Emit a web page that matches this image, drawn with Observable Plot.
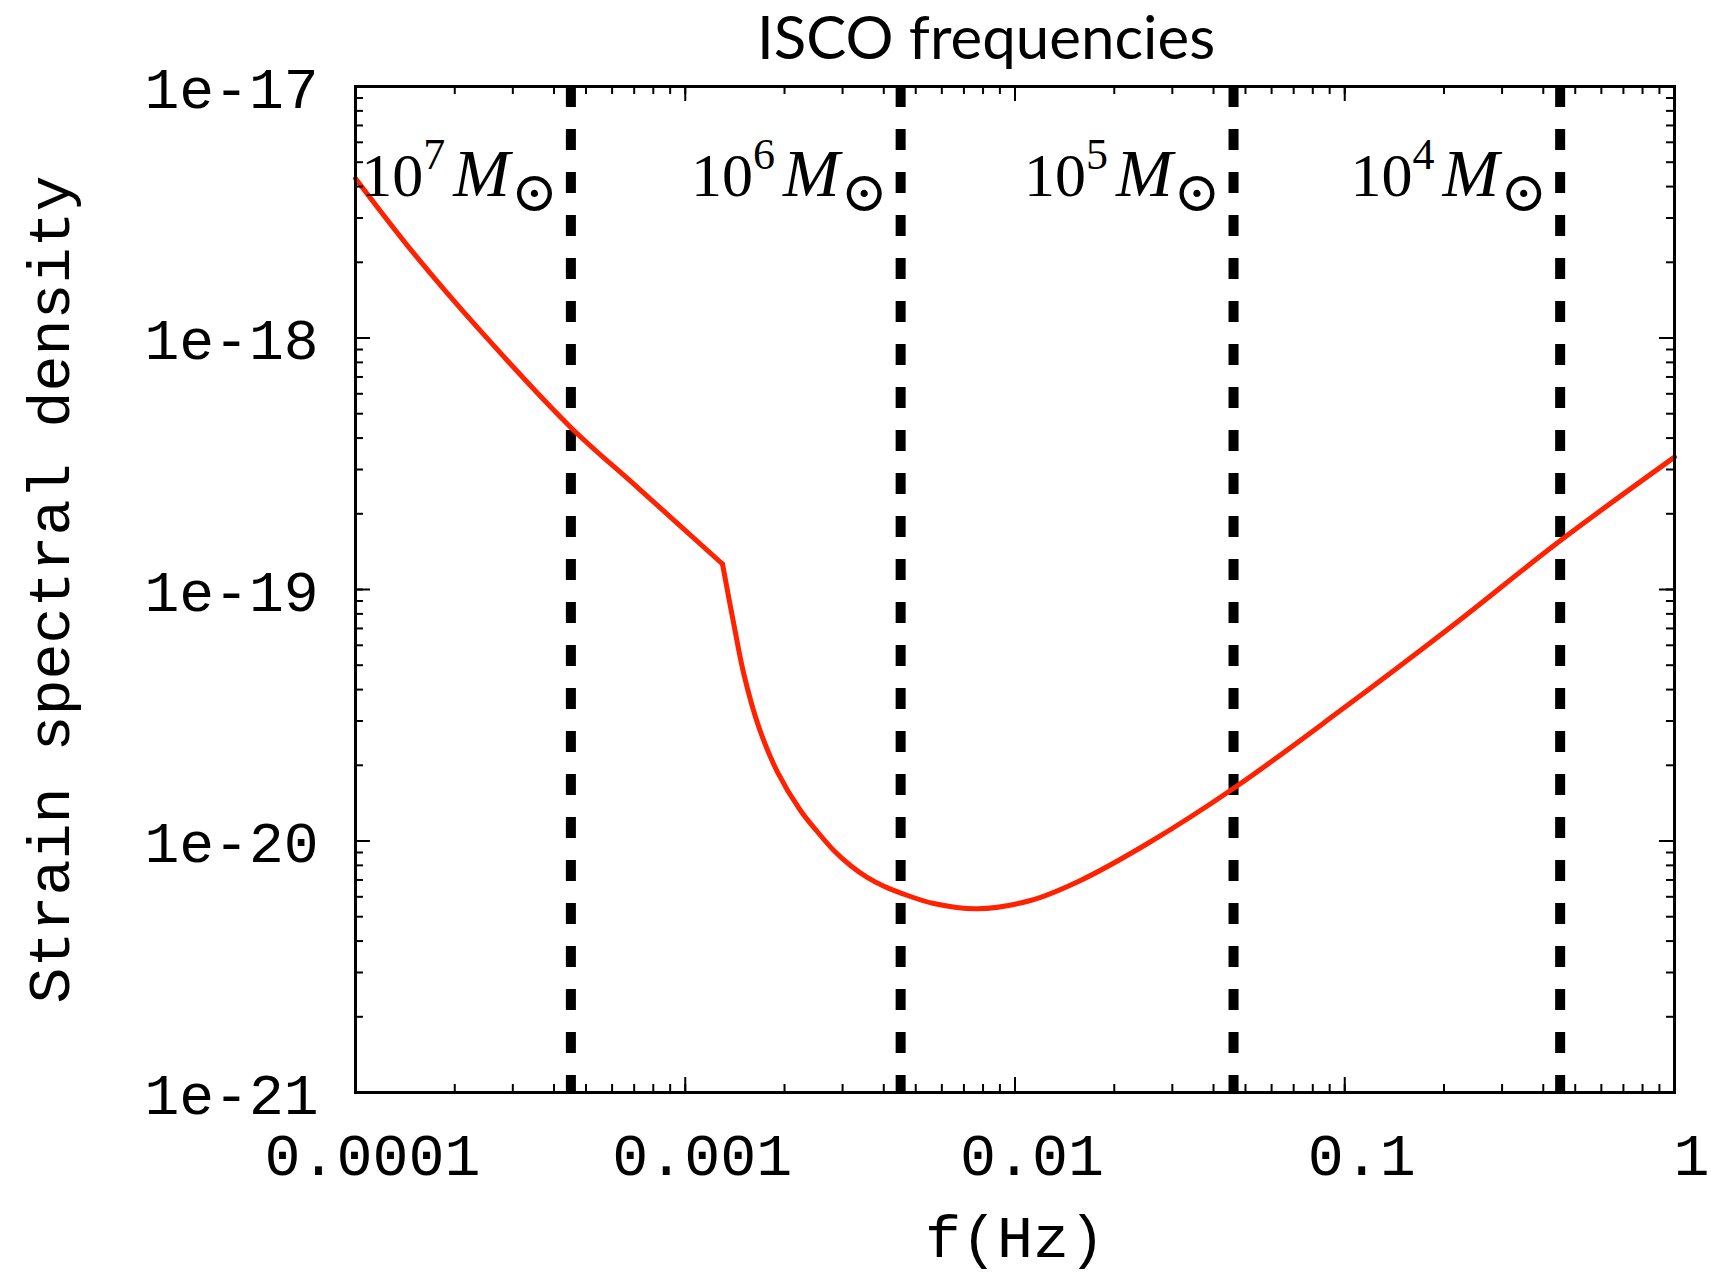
<!DOCTYPE html>
<html>
<head>
<meta charset="utf-8">
<script src="https://cdn.jsdelivr.net/npm/d3@7"></script>
<script src="https://cdn.jsdelivr.net/npm/@observablehq/plot@0.6"></script>
<style>
  html, body { margin: 0; padding: 0; background: #fff; }
  #chart svg { display: block; }
</style>
</head>
<body>
<div id="chart"></div>
<script>
// ---- data ----
const chartTitle = "ISCO frequencies";
const xLabel = "f(Hz)";
const yLabel = "Strain spectral density";

const xTickValues = [1e-4, 1e-3, 1e-2, 1e-1, 1];
const xTickLabels = ["0.0001", "0.001", "0.01", "0.1", "1"];
const yTickValues = [1e-21, 1e-20, 1e-19, 1e-18, 1e-17];
const yTickLabels = ["1e-21", "1e-20", "1e-19", "1e-18", "1e-17"];

// low-frequency branch (up to the kink)
const freqLow   = [1.0e-4, 1.52e-4, 2.42e-4, 4.49e-4, 7.23e-4, 1.297e-3];
const strainLow = [4.31e-18, 2.13e-18, 1.05e-18, 4.42e-19, 2.52e-19, 1.263e-19];

// high-frequency branch (from the kink on)
const freqHigh = [1.297e-3, 1.403e-3, 1.505e-3, 1.672e-3, 1.901e-3, 2.236e-3, 2.512e-3, 2.822e-3,
                  3.170e-3, 3.563e-3, 4.02e-3, 4.549e-3, 5.674e-3, 7.68e-3, 1.114e-2, 1.580e-2,
                  2.517e-2, 4.665e-2, 9.70e-2, 0.2093, 0.451, 1.0];
const strainHigh = [1.263e-19, 7.31e-20, 4.62e-20, 2.835e-20, 1.889e-20, 1.322e-20, 1.091e-20, 9.17e-21,
                    7.99e-21, 7.16e-21, 6.59e-21, 6.18e-21, 5.64e-21, 5.375e-21, 5.80e-21, 6.97e-21,
                    9.75e-21, 1.640e-20, 3.30e-20, 7.08e-20, 1.566e-19, 3.36e-19];

// ISCO frequencies and the mass exponent of each label
const iscoFreq = [4.5e-4, 4.5e-3, 4.6e-2, 4.5e-1];
const iscoMassExp = ["7", "6", "5", "4"];

// ---- tables built from the arrays ----
const lowData = freqLow.map((f, i) => ({f, h: strainLow[i]}));
const highData = freqHigh.map((f, i) => ({f, h: strainHigh[i]}));
const iscoData = iscoFreq.map((f, i) => ({f, exp: iscoMassExp[i]}));
const xTicks = xTickValues.map((v, i) => ({v, label: xTickLabels[i]}));
const yTicks = yTickValues.map((v, i) => ({v, label: yTickLabels[i]}));
const xMinor = d3.scaleLog().domain([1e-4, 1]).ticks();
const yMinor = d3.scaleLog().domain([1e-21, 1e-17]).ticks();

const W = 1712, H = 1274;
const mL = 355, mR = 38, mT = 86, mB = 182;
const frameH = H - mT - mB, frameW = W - mL - mR;
const major = 15, minor = 8;
const mono = "Liberation Mono";

const chart = Plot.plot({
  width: W, height: H,
  marginLeft: mL, marginRight: mR, marginTop: mT, marginBottom: mB,
  style: {fontFamily: mono, background: "#fff", color: "#000"},
  x: {type: "log", domain: [1e-4, 1], axis: null},
  y: {type: "log", domain: [1e-21, 1e-17], axis: null},
  marks: [
    // ISCO dashed lines
    Plot.ruleX(iscoData, {x: "f", stroke: "#000", strokeWidth: 10, strokeDasharray: "21,22"}),
    // sensitivity curve
    Plot.line(lowData, {x: "f", y: "h", stroke: "#ff2200", strokeWidth: 5, curve: "catmull-rom"}),
    Plot.line(highData, {x: "f", y: "h", stroke: "#ff2200", strokeWidth: 5, curve: "catmull-rom"}),
    // inward ticks: bottom / top
    Plot.ruleX(xMinor, {x: d => d, stroke: "#000", strokeWidth: 2, insetTop: frameH - minor}),
    Plot.ruleX(xMinor, {x: d => d, stroke: "#000", strokeWidth: 2, insetBottom: frameH - minor}),
    Plot.ruleX(xTicks, {x: "v", stroke: "#000", strokeWidth: 2, insetTop: frameH - major}),
    Plot.ruleX(xTicks, {x: "v", stroke: "#000", strokeWidth: 2, insetBottom: frameH - major}),
    // inward ticks: left / right
    Plot.ruleY(yMinor, {y: d => d, stroke: "#000", strokeWidth: 2, insetRight: frameW - minor}),
    Plot.ruleY(yMinor, {y: d => d, stroke: "#000", strokeWidth: 2, insetLeft: frameW - minor}),
    Plot.ruleY(yTicks, {y: "v", stroke: "#000", strokeWidth: 2, insetRight: frameW - major}),
    Plot.ruleY(yTicks, {y: "v", stroke: "#000", strokeWidth: 2, insetLeft: frameW - major}),
    Plot.frame({stroke: "#000", strokeWidth: 3}),
    // tick labels
    Plot.text(xTicks, {x: "v", text: "label", frameAnchor: "bottom", lineAnchor: "bottom",
      dy: 82, dx: 17, fontSize: 60, fontFamily: mono, fill: "#000"}),
    Plot.text(yTicks, {y: "v", text: "label", frameAnchor: "left", lineAnchor: "bottom",
      textAnchor: "end", dx: -37, dy: 21, fontSize: 58, fontFamily: mono, fill: "#000"}),
    // axis labels
    Plot.text([xLabel], {text: d => d, frameAnchor: "bottom", lineAnchor: "bottom", textAnchor: "middle",
      dy: 164, fontSize: 60, fontFamily: mono, fill: "#000"}),
    Plot.text([yLabel], {text: d => d, frameAnchor: "left", lineAnchor: "bottom", textAnchor: "middle",
      rotate: -90, dx: -287, fontSize: 60, fontFamily: mono, fill: "#000"}),
    // title
    Plot.text([chartTitle], {text: d => d, frameAnchor: "top", lineAnchor: "bottom", textAnchor: "middle",
      dy: -28, dx: -29, fontSize: 60, fontFamily: "Lato", fill: "#000"}),
    // ISCO mass labels
    Plot.text(iscoData, {x: "f", text: d => "10^" + d.exp + " M⊙", frameAnchor: "top", lineAnchor: "bottom",
      textAnchor: "end", dy: 109, dx: -13, fontSize: 62, fontFamily: "Liberation Serif", fill: "#000"})
  ]
});

// typeset the mass labels as 10^n M_⊙
const ns = "http://www.w3.org/2000/svg";
for (const t of chart.querySelectorAll("text")) {
  const m = /^10\^(\d+) M⊙$/.exec(t.textContent);
  if (!m) continue;
  t.textContent = "";
  const add = (s, attrs) => {
    const ts = document.createElementNS(ns, "tspan");
    ts.textContent = s;
    for (const k in attrs) ts.setAttribute(k, attrs[k]);
    t.appendChild(ts);
  };
  add("10", {});
  add(m[1], {dy: -27, "font-size": 44});
  add("M", {dy: 27, dx: 8, "font-style": "italic", "font-size": 68});
  add("⊙", {dy: 15, dx: 1, "font-size": 56, "font-family": "DejaVu Serif"});
}

document.getElementById("chart").appendChild(chart);
</script>
</body>
</html>
